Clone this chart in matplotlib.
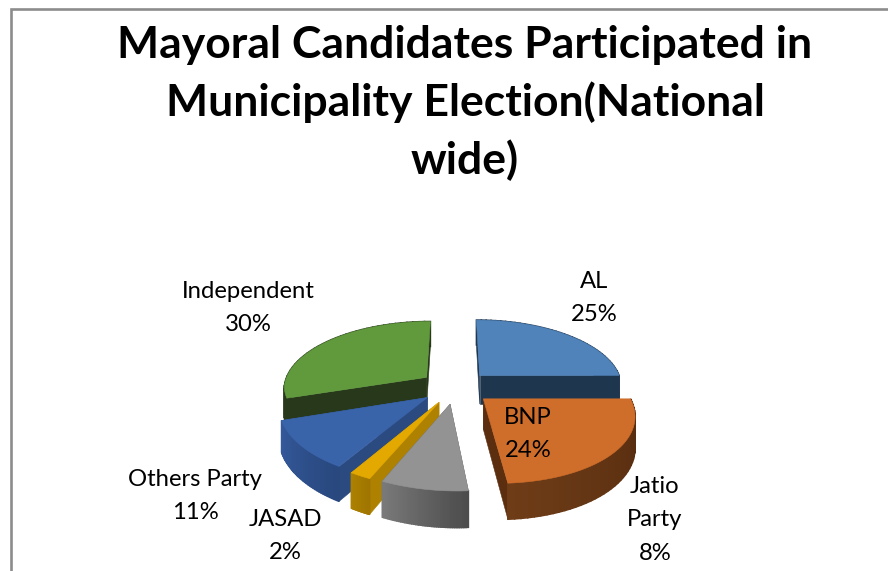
import numpy as np
import matplotlib
matplotlib.use("Agg")
import matplotlib.pyplot as plt
from matplotlib.colors import to_rgb
from matplotlib.patches import Polygon

# Election shares, clockwise from twelve o'clock
parties = ["AL", "BNP", "Jatio\nParty", "JASAD", "Others Party", "Independent"]
shares = [25, 24, 8, 2, 11, 30]

TITLE = "Mayoral Candidates Participated in\nMunicipality Election(National\nwide)"

# top face, cut faces, outer rim (light end, dark end)
STYLES = {
    "AL": ("#5083BA", "#1F364F", "#1F364F", "#1F364F"),
    "BNP": ("#CF6D2A", "#5C2E10", "#6E3C17", "#52290E"),
    "Jatio\nParty": ("#939393", "#5A5A5A", "#7A7A7A", "#4C4C4C"),
    "JASAD": ("#E3A900", "#AE8100", "#AE8100", "#A07600"),
    "Others Party": ("#3A64AA", "#2B4A80", "#35599B", "#28487E"),
    "Independent": ("#619A3D", "#27391A", "#27391A", "#27391A"),
}
LABEL_XY = {
    "AL": (594, 298),
    "BNP": (528, 434),
    "Jatio\nParty": (655, 520),
    "JASAD": (285, 536),
    "Others Party": (195, 496),
    "Independent": (248, 308),
}

# Perspective parameters for the tilted disc
CX, CY = 455.0, 387.0
RX, RY = 147.0, 67.3
TILT = 0.1556
DEPTH = 29.5
EXPLODE = 0.25
SKEW = 8.5        # the near half of the disc leans to the right
SIDE_SCALE = 0.975
SEGMENTS = 40


def project(u, v, z=0.0):
    w = 1.0 + TILT * v
    return (CX + RX * u * SIDE_SCALE / w + SKEW * max(-v, 0.0),
            CY + (-RY * v + DEPTH * z) / w)


def mix(a, b, t):
    a, b = np.array(to_rgb(a)), np.array(to_rgb(b))
    return tuple(a + (b - a) * t)


fig = plt.figure(figsize=(8.88, 5.71), dpi=100, facecolor="white")
ax = fig.add_axes([0, 0, 1, 1])
ax.set_xlim(0, 888)
ax.set_ylim(571, 0)
ax.axis("off")

# Chart frame, running off the canvas at the right and bottom
ax.plot([11, 11, 888], [571, 9, 9], color="#8C8C8C", lw=1.9, solid_joinstyle="miter")


def add_face(pts, color, zorder, lw=0.4):
    ax.add_patch(Polygon(pts, closed=True, facecolor=color, edgecolor=color,
                         lw=lw, zorder=zorder))


totals = np.cumsum([0] + shares) / sum(shares) * 2 * np.pi
slices = []
for name, a0, a1 in zip(parties, totals[:-1], totals[1:]):
    mid = (a0 + a1) / 2
    slices.append((name, a0, a1, EXPLODE * np.sin(mid), EXPLODE * np.cos(mid)))

# Far slices first so that nearer ones paint over them
slices.sort(key=lambda s: -(s[4] + 0.6 * np.cos((s[1] + s[2]) / 2)))

for order, (name, a0, a1, ou, ov) in enumerate(slices):
    top, cut, rim_a, rim_b = STYLES[name]
    theta = np.linspace(a0, a1, SEGMENTS)
    us, vs = ou + np.sin(theta), ov + np.cos(theta)
    faces = []
    for au, av in ((us[0], vs[0]), (us[-1], vs[-1])):
        quad = [project(ou, ov), project(au, av), project(au, av, 1), project(ou, ov, 1)]
        faces.append(((ov + av) / 2, quad, cut, 0.4))
    for i in range(SEGMENTS - 1):
        quad = [project(us[i], vs[i]), project(us[i + 1], vs[i + 1]),
                project(us[i + 1], vs[i + 1], 1), project(us[i], vs[i], 1)]
        faces.append(((vs[i] + vs[i + 1]) / 2, quad,
                      mix(rim_a, rim_b, 1 - i / (SEGMENTS - 2)), 1.1))
    faces.sort(key=lambda f: -f[0])
    z = 2 + order
    for _, quad, color, lw in faces:
        add_face(quad, color, z, lw)
    outline = [project(ou, ov)] + [project(a, b) for a, b in zip(us, vs)]
    add_face(outline, top, z + 0.5)

FONT = "Lato"
ax.text(465, 103, TITLE, ha="center", va="center", fontsize=32, fontweight="bold",
        family=FONT, color="black", linespacing=1.48, zorder=20)
for name, share in zip(parties, shares):
    x, y = LABEL_XY[name]
    ax.text(x, y, f"{name}\n{share}%", ha="center", va="center", fontsize=17.2,
            family=FONT, color="black", linespacing=1.75, zorder=20)

fig.savefig("out.png", dpi=100)
